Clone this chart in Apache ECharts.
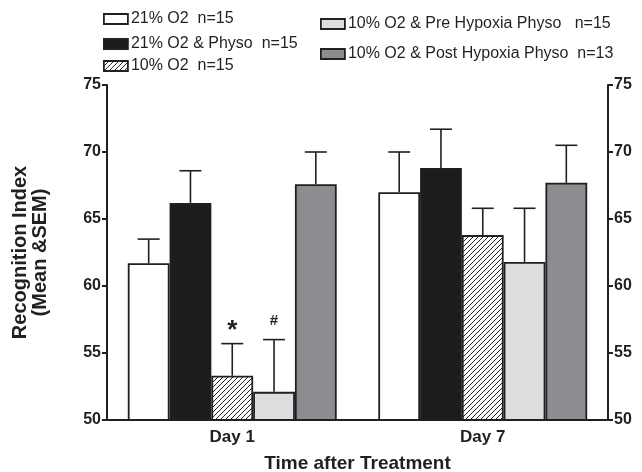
<!DOCTYPE html>
<html>
<head>
<meta charset="utf-8">
<script src="https://cdn.jsdelivr.net/npm/echarts@6/dist/echarts.min.js"></script>
<style>
  html, body { margin: 0; padding: 0; background: #fff; }
  #chart { width: 642px; height: 472px; }
</style>
</head>
<body>
<div id="chart"></div>
<script>
// data
const days = ["Day 1", "Day 7"];
const groups = [
  "21% O2  n=15",
  "21% O2 & Physo  n=15",
  "10% O2  n=15",
  "10% O2 & Pre Hypoxia Physo   n=15",
  "10% O2 & Post Hypoxia Physo  n=13"
];
const means = [
  [61.7, 67.0],
  [66.2, 68.8],
  [53.3, 63.8],
  [52.1, 61.8],
  [67.6, 67.7]
];
const sems = [
  [1.8, 3.0],
  [2.4, 2.9],
  [2.4, 2.0],
  [3.9, 4.0],
  [2.4, 2.8]
];
const marks = [
  ["", ""],
  ["", ""],
  ["*", ""],
  ["#", ""],
  ["", ""]
];
const yTicks = { min: 50, max: 75, step: 5 };

const font = "Arial, 'Liberation Sans', sans-serif";
const ink = "#231f20";

// hatch pattern for the 10% O2 bars
function hatch() {
  const c = document.createElement("canvas");
  c.width = 5; c.height = 5;
  const g = c.getContext("2d");
  g.fillStyle = "#fff";
  g.fillRect(0, 0, 5, 5);
  g.strokeStyle = ink;
  g.lineWidth = 1;
  g.beginPath();
  g.moveTo(-1, 6); g.lineTo(6, -1);
  g.moveTo(-1, 1); g.lineTo(1, -1);
  g.moveTo(4, 6); g.lineTo(6, 4);
  g.stroke();
  return { image: c, repeat: "repeat" };
}

const fills = ["#ffffff", "#1c1c1c", hatch(), "#dcdddf", "#8c8d90"];
const gapCat = "16.6%";

const barSeries = groups.map((name, i) => ({
  name: name,
  type: "bar",
  barGap: "0%",
  barCategoryGap: gapCat,
  data: means[i],
  itemStyle: { color: fills[i], borderColor: ink, borderWidth: 1.8 },
  z: 2
}));

const errData = [];
groups.forEach((g, i) => {
  days.forEach((d, j) => {
    errData.push([j, i, means[i][j], sems[i][j], marks[i][j]]);
  });
});

const errSeries = {
  type: "custom",
  name: "sem",
  data: errData,
  encode: { x: 0, y: 2 },
  z: 3,
  silent: true,
  renderItem: function (params, api) {
    const cat = api.value(0);
    const gi = api.value(1);
    const m = api.value(2);
    const s = api.value(3);
    const mark = errData[params.dataIndex][4];
    const layout = api.barLayout({ barGap: "0%", barCategoryGap: gapCat, count: groups.length })[gi];
    const base = api.coord([cat, m]);
    const top = api.coord([cat, m + s]);
    const x = base[0] + layout.offsetCenter;
    const half = 11;
    const style = { stroke: ink, lineWidth: 1.6 };
    const children = [
      { type: "line", shape: { x1: x, y1: base[1], x2: x, y2: top[1] }, style: style },
      { type: "line", shape: { x1: x - half, y1: top[1], x2: x + half, y2: top[1] }, style: style }
    ];
    if (mark) {
      children.push({
        type: "text",
        style: {
          text: mark,
          x: x,
          y: top[1] - (mark === "*" ? 0 : 11),
          align: "center",
          verticalAlign: "bottom",
          fill: ink,
          font: "bold " + (mark === "*" ? 26 : 15) + "px " + font
        }
      });
    }
    return { type: "group", children: children };
  }
};

const legendPos = [
  { left: 103, top: 11 },
  { left: 103, top: 36 },
  { left: 103, top: 58 },
  { left: 320, top: 16 },
  { left: 320, top: 46 }
];
const legends = groups.map((name, i) => ({
  data: [name],
  left: legendPos[i].left,
  top: legendPos[i].top,
  padding: 0,
  itemWidth: 24,
  itemHeight: 10,
  icon: "rect",
  selectedMode: false,
  itemStyle: { borderColor: ink, borderWidth: 1.8 },
  textStyle: { fontFamily: font, fontSize: 16, color: ink, padding: [0, 0, 0, -2] }
}));

const yAxisBase = {
  type: "value",
  min: yTicks.min,
  max: yTicks.max,
  interval: yTicks.step,
  splitLine: { show: false },
  axisLine: { show: true, lineStyle: { color: ink, width: 2 } },
  axisTick: { show: true, length: 5, lineStyle: { color: ink, width: 2 } },
  axisLabel: { color: ink, fontFamily: font, fontWeight: "bold", fontSize: 16, margin: 6 }
};

const chart = echarts.init(document.getElementById("chart"));
chart.setOption({
  animation: false,
  backgroundColor: "#fff",
  legend: legends,
  grid: { left: 107, right: 34, top: 85, bottom: 52, outerBoundsMode: "none" },
  xAxis: {
    type: "category",
    data: days,
    axisTick: { show: false },
    axisLine: { lineStyle: { color: ink, width: 2 } },
    axisLabel: { color: ink, fontFamily: font, fontWeight: "bold", fontSize: 17, margin: 9 },
    name: "Time after Treatment",
    nameLocation: "middle",
    nameGap: 34,
    nameTextStyle: { color: ink, fontFamily: font, fontWeight: "bold", fontSize: 19 }
  },
  yAxis: [
    Object.assign({}, yAxisBase, {
      position: "left",
      name: "Recognition Index\n(Mean &SEM)",
      nameLocation: "middle",
      nameGap: 57,
      nameRotate: 90,
      nameTextStyle: { color: ink, fontFamily: font, fontWeight: "bold", fontSize: 20, lineHeight: 20 }
    }),
    Object.assign({}, yAxisBase, { position: "right" })
  ],
  series: barSeries.concat([errSeries])
});
</script>
</body>
</html>
